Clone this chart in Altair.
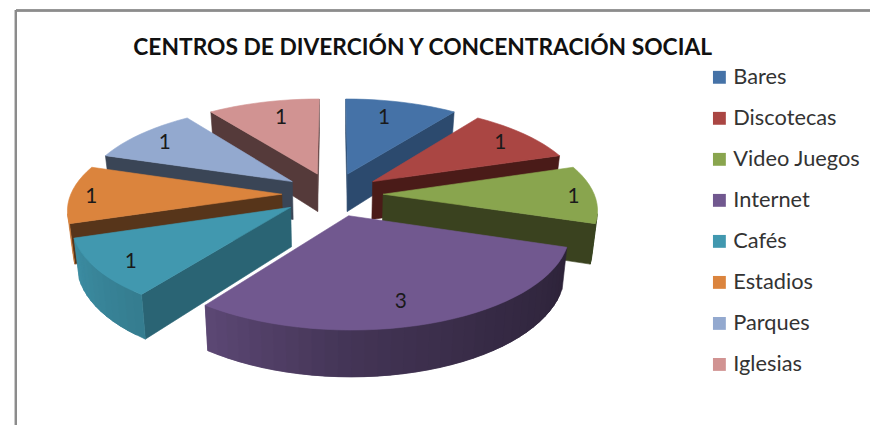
import math
import numpy as np
import pandas as pd
import altair as alt

TITLE = "CENTROS DE DIVERCIÓN Y CONCENTRACIÓN SOCIAL"
names = ["Bares", "Discotecas", "Video Juegos", "Internet", "Cafés", "Estadios", "Parques", "Iglesias"]
values = [1, 1, 1, 3, 1, 1, 1, 1]
top_colors = ["#4572A7", "#AA4643", "#89A54E", "#71588F", "#4198AF", "#DB843D", "#93A9CF", "#D19392"]
wall_colors = ["#2C4A6E", "#4A1B18", "#3A421F", "#453355", "#2A6474", "#57351A", "#3A4556", "#553A3A"]
paint_order = [7, 0, 6, 1, 5, 2, 4, 3]

# view of the exploded tilted pie
CX, CY, HALF_W, HALF_H, PERSP, EXPLODE, DEPTH, SHRINK = 335.5, 194, 213, 92, 0.143, 0.24, 39, 0.98


def project(u, v, bottom=False):
    k = 1 + PERSP * v
    x = CX + HALF_W * u / k
    y = CY - HALF_H * v / k
    if bottom:
        x = CX + (x - CX) * SHRINK
        y = y + DEPTH / k
    return x, y


def shade(hex_color, f):
    r, g, b = (int(hex_color[i:i + 2], 16) for i in (1, 3, 5))
    return "#%02x%02x%02x" % (int(r * f), int(g * f), int(b * f))


def rim_factor(deg):
    return float(np.interp(deg % 360, [60, 108, 144, 180, 216, 252, 288, 360],
                           [0.75, 0.40, 0.48, 0.60, 0.82, 0.93, 0.88, 0.8]))


def area(pts):
    s = 0
    for (a, b), (c, d) in zip(pts, pts[1:] + pts[:1]):
        s += a * d - c * b
    return s


rows, labels = [], []
pid = 0


def add_poly(pts, fill):
    global pid
    for seq, (x, y) in enumerate(pts):
        rows.append({"pid": pid, "seq": seq, "px": x, "py": y, "fillc": fill})
    pid += 1


total = sum(values)
starts = np.cumsum([0] + values[:-1]) / total * 360
for i in paint_order:
    a0 = starts[i]
    a1 = a0 + values[i] / total * 360
    mid = math.radians((a0 + a1) / 2)
    ou, ov = EXPLODE * math.sin(mid), EXPLODE * math.cos(mid)
    steps = int(max(6, (a1 - a0) / 3))
    degs = np.linspace(a0, a1, steps + 1)
    rim = [(ou + math.sin(math.radians(d)), ov + math.cos(math.radians(d))) for d in degs]
    apex = (ou, ov)
    # radial walls
    for p, q in ((apex, rim[0]), (rim[-1], apex)):
        quad = [project(*p), project(*q), project(*q, True), project(*p, True)]
        if area(quad) < 0:
            add_poly(quad, wall_colors[i])
    # outer wall, in shaded strips; each strip runs under the next so no seam shows
    for j in range(steps):
        p, q = rim[j], rim[min(j + 2, steps)]
        quad = [project(*p), project(*q), project(*q, True), project(*p, True)]
        if area(quad) < 0:
            add_poly(quad, shade(top_colors[i], rim_factor((degs[j] + degs[j + 1]) / 2)))
    add_poly([project(*apex)] + [project(*r) for r in rim], top_colors[i])
    r = EXPLODE + 0.76 + 0.12 * abs(math.sin(mid))
    lx, ly = project(r * math.sin(mid), r * math.cos(mid))
    lx = CX + (lx - CX) * (0.8 + 0.22 * abs(math.sin(mid)))
    labels.append({"px": lx, "py": ly + 3, "val": values[i]})

polys = pd.DataFrame(rows)
label_df = pd.DataFrame(labels)
legend_df = pd.DataFrame({"Categoria": names})
title_df = pd.DataFrame({"t": [TITLE]})

W, H = 870, 419
xs = alt.Scale(domain=[8, 8 + W], range=[0, W])
ys = alt.Scale(domain=[8, 8 + H], range=[0, H])

frame_v = alt.Chart(legend_df).mark_rule(color="#8c8c8c", strokeWidth=2).encode(
    x=alt.value(8), y=alt.value(0), y2=alt.value(H))
frame_h = alt.Chart(legend_df).mark_rule(color="#8c8c8c", strokeWidth=1.5).encode(
    x=alt.value(8), x2=alt.value(W), y=alt.value(0.5))

pie = alt.Chart(polys).mark_line(strokeWidth=0.6, interpolate="linear-closed", clip=False).encode(
    x=alt.X("px:Q", scale=xs, axis=None),
    y=alt.Y("py:Q", scale=ys, axis=None),
    detail="pid:N",
    order="seq:Q",
    fill=alt.Fill("fillc:N", scale=None),
    stroke=alt.Stroke("fillc:N", scale=None),
)

text = alt.Chart(label_df).mark_text(font="Lato", fontSize=21, color="#1a1a1a").encode(
    x=alt.X("px:Q", scale=xs, axis=None),
    y=alt.Y("py:Q", scale=ys, axis=None),
    text="val:Q",
)

title = alt.Chart(title_df).mark_text(font="Lato", fontSize=23, fontWeight="bold", color="#111111",
                                      align="center", baseline="middle").encode(
    x=alt.value(418.5), y=alt.value(38.5), text="t:N")

legend = alt.Chart(legend_df).mark_square(size=0).encode(
    x=alt.value(-50), y=alt.value(-50),
    color=alt.Color("Categoria:N",
                    scale=alt.Scale(domain=names, range=top_colors),
                    sort=names,
                    legend=alt.Legend(orient="none", legendX=707, legendY=57, title=None,
                                      symbolType="square", symbolSize=169, symbolOpacity=1,
                                      symbolStrokeWidth=0, labelFont="Lato", labelFontSize=22,
                                      labelColor="#333333", rowPadding=19.4, labelOffset=3,
                                      padding=0)),
)

chart = alt.layer(frame_v, frame_h, pie, text, title, legend).properties(
    width=W, height=H, padding=0, autosize="none",
).configure_view(stroke=None)

chart.save("out.html", embed_options={"renderer": "svg", "actions": False})
